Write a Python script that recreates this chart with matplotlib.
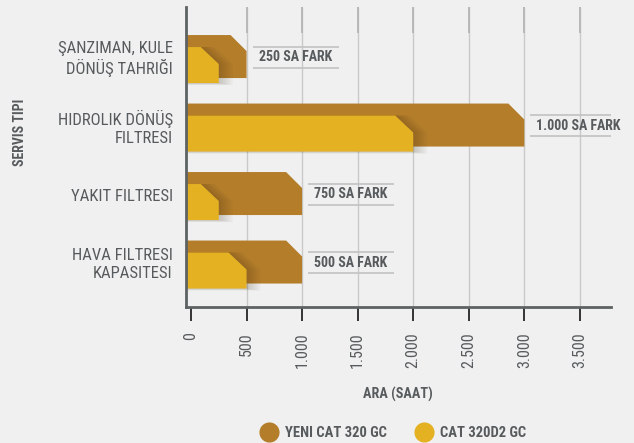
import numpy as np
import matplotlib.pyplot as plt
from matplotlib.patches import Polygon
from matplotlib.lines import Line2D

plt.rcParams['font.family'] = ['Roboto Condensed', 'Liberation Sans Narrow', 'DejaVu Sans']
plt.rcParams['font.stretch'] = 'condensed'

categories = ['ŞANZIMAN, KULE\nDÖNÜŞ TAHRIĞI', 'HIDROLIK DÖNÜŞ\nFILTRESI',
              'YAKIT FILTRESI', 'HAVA FILTRESI\nKAPASITESI']
new_hours = [500, 3000, 1000, 1000]
old_hours = [250, 2000, 250, 500]
diff_labels = ['250 SA FARK', '1.000 SA FARK', '750 SA FARK', '500 SA FARK']
xticks = [0, 500, 1000, 1500, 2000, 2500, 3000, 3500]
xtick_labels = ['0', '500', '1.000', '1.500', '2.000', '2.500', '3.000', '3.500']
series_names = ['YENI CAT 320 GC', 'CAT 320D2 GC']

bg = '#f0f0f0'
brown = '#b37d2a'
yellow = '#e4b123'
txt = '#575b5d'
axis_col = '#5d6263'

fig = plt.figure(figsize=(6.34, 4.43), dpi=100, facecolor=bg)
W, H = 634, 443
ax = fig.add_axes([186 / W, 1 - 307 / H, (611 - 186) / W, 300 / H])
ax.set_facecolor(bg)
xmin, xmax = -45, 3780
ax.set_xlim(xmin, xmax)
ax.set_ylim(3.62, -0.76)

# pixel -> data scale
sx = (xmax - xmin) / 425.0
sy = (3.62 + 0.76) / 300.0

# grid
ax.vlines(xticks[1:], -0.76, 3.62, color='#c9c9c9', lw=1.0, zorder=0)
ax.vlines(xticks[1:], -0.76, -0.76 + 26 * sy, color='#b8b8b8', lw=1.4, zorder=0)


def bar_pts(v, top, bot, cx, cy):
    return [(xmin, top), (v - cx, top), (v, top + cy), (v, bot), (xmin, bot)]


for i in range(len(categories)):
    ax.add_patch(Polygon(bar_pts(new_hours[i], i - 24 * sy, i + 19 * sy, 16 * sx, 16 * sy),
                         facecolor=brown, edgecolor='none', zorder=2))
    # soft shadow of the yellow bar
    for k in range(1, 8):
        pts = bar_pts(old_hours[i] + k * 2 * sx, i - 12 * sy, i + 24 * sy + k * 0.3 * sy,
                      18 * sx, 17 * sy)
        ax.add_patch(Polygon(pts, facecolor='#3a2a10', edgecolor='none', alpha=0.03, zorder=2.5))
    ax.add_patch(Polygon(bar_pts(old_hours[i], i - 12 * sy, i + 24 * sy, 18 * sx, 17 * sy),
                         facecolor=yellow, edgecolor='none', zorder=3))

# difference labels
texts = []
for i in range(len(categories)):
    t = ax.text(new_hours[i] + 12 * sx, i - 2 * sy, diff_labels[i], ha='left', va='center',
                fontsize=10, fontweight='bold', color=txt, zorder=4)
    texts.append(t)

fig.canvas.draw()
inv = ax.transData.inverted()
for i, t in enumerate(texts):
    bb = t.get_window_extent()
    x0 = inv.transform((bb.x0, bb.y0))[0] - 6 * sx
    x1 = inv.transform((bb.x1, bb.y0))[0] + 7 * sx
    yc = i - 2 * sy
    ax.hlines([yc - 10.5 * sy, yc + 10.5 * sy], x0, x1, color='#c2c2c2', lw=1.2, zorder=4)

for s in ['top', 'right']:
    ax.spines[s].set_visible(False)
for s in ['left', 'bottom']:
    ax.spines[s].set_color(axis_col)
    ax.spines[s].set_linewidth(2.0)
    ax.spines[s].set_zorder(5)

ax.set_xticks(xticks)
ax.set_xticklabels(xtick_labels, rotation=90, va='top', ha='center')
ax.tick_params(axis='x', length=10, width=1.1, color='black', pad=8,
               labelsize=11.5, labelcolor=txt)

ax.set_yticks(range(len(categories)))
ax.set_yticklabels(categories)
ax.tick_params(axis='y', length=0, pad=9.5, labelsize=12, labelcolor=txt)
for lab in ax.get_yticklabels():
    lab.set_linespacing(1.25)
    lab.set_va('center')

fig.text(398 / W, 1 - 394 / H, 'ARA (SAAT)', ha='center', va='center',
         fontsize=10.2, fontweight='bold', color=txt)
fig.text(20 / W, 1 - 132 / H, 'SERVIS TIPI', ha='center', va='center', rotation=90,
         fontsize=10, fontweight='bold', color=txt)

handles = [Line2D([], [], ls='none', marker='o', ms=14.5, mfc=c, mec='none')
           for c in [brown, yellow]]
fig.legend(handles, series_names, loc='center', bbox_to_anchor=(394 / W, 1 - 433 / H),
           ncol=2, frameon=False, handlelength=1.0, handletextpad=0.6, columnspacing=2.0,
           prop={'size': 10.5, 'weight': 'bold'}, labelcolor=txt, borderpad=0)

fig.savefig('out.png', dpi=100, facecolor=bg)
